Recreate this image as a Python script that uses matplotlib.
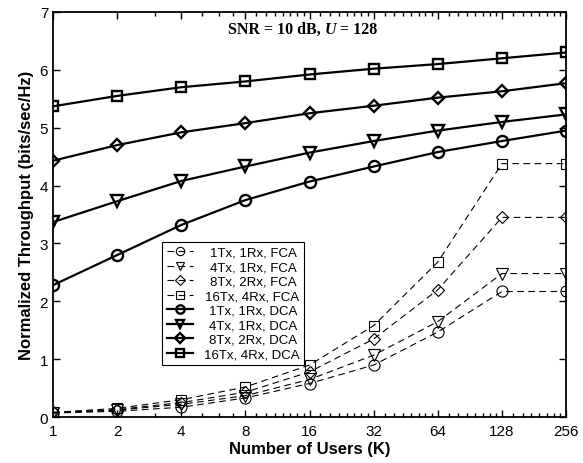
import numpy as np
import matplotlib
matplotlib.use("Agg")
import matplotlib.pyplot as plt
from matplotlib.ticker import FixedLocator, NullFormatter
from matplotlib.offsetbox import TextArea, HPacker, AnchoredOffsetbox

# number of users K
users = [1, 2, 4, 8, 16, 32, 64, 128, 256]

# FCA (dashed, thin)
fca_1x1 = [0.07, 0.10, 0.17, 0.33, 0.58, 0.90, 1.47, 2.17, 2.17]
fca_4x1 = [0.07, 0.12, 0.22, 0.37, 0.65, 1.07, 1.65, 2.48, 2.48]
fca_8x2 = [0.08, 0.13, 0.25, 0.43, 0.78, 1.35, 2.20, 3.45, 3.45]
fca_16x4 = [0.08, 0.15, 0.30, 0.52, 0.90, 1.58, 2.68, 4.38, 4.38]

# DCA (solid, thick)
dca_1x1 = [2.28, 2.80, 3.32, 3.75, 4.07, 4.33, 4.58, 4.77, 4.95]
dca_4x1 = [3.37, 3.73, 4.08, 4.33, 4.57, 4.77, 4.95, 5.10, 5.23]
dca_8x2 = [4.43, 4.70, 4.92, 5.08, 5.25, 5.38, 5.52, 5.63, 5.77]
dca_16x4 = [5.37, 5.55, 5.70, 5.80, 5.92, 6.02, 6.10, 6.20, 6.30]

labels = ["1Tx, 1Rx, FCA", "4Tx, 1Rx, FCA", "8Tx, 2Rx, FCA", "16Tx, 4Rx, FCA",
          "1Tx, 1Rx, DCA", "4Tx, 1Rx, DCA", "8Tx, 2Rx, DCA", "16Tx, 4Rx, DCA"]
markers = ["o", "v", "D", "s"]
msizes = [8, 8.5, 6.5, 7.5]

plt.rcParams["font.family"] = ["Liberation Sans", "DejaVu Sans"]

fig = plt.figure(figsize=(5.83, 4.64), dpi=100)
ax = fig.add_axes([0.091, 0.099, 0.88, 0.873])

series = [fca_1x1, fca_4x1, fca_8x2, fca_16x4, dca_1x1, dca_4x1, dca_8x2, dca_16x4]
for i, ys in enumerate(series):
    m = markers[i % 4]
    ms = msizes[i % 4]
    if i < 4:
        ax.plot(users, ys, ls=(0, (6, 4)), lw=0.8, color="black", marker=m,
                ms=ms, mfc="none", mec="black", mew=0.8, label=labels[i])
    else:
        ax.plot(users, ys, ls="-", lw=1.6, color="black", marker=m,
                ms=ms, mfc="none", mec="black", mew=1.7, label=labels[i])

ax.set_xscale("log", base=2)
ax.set_xlim(1, 256)
ax.set_ylim(0, 7)
ax.set_xticks(users)
ax.set_xticklabels([str(u) for u in users])
minor = [3, 5, 6, 7]
for k in range(3, 8):
    minor += [2 ** k * (1 + j / 8) for j in range(1, 8)]
ax.xaxis.set_minor_locator(FixedLocator(minor))
ax.xaxis.set_minor_formatter(NullFormatter())
ax.set_yticks(range(0, 8))

ax.tick_params(which="both", direction="in", top=True, right=True,
               labelsize=11, width=1)
ax.tick_params(which="major", length=5)
ax.tick_params(which="minor", length=3)
ax.tick_params(axis="x", pad=5)
for s in ax.spines.values():
    s.set_linewidth(1.3)

ax.set_xlabel("Number of Users (K)", fontsize=12, fontweight="bold", labelpad=2)
ax.set_ylabel("Normalized Throughput (bits/sec/Hz)", fontsize=12,
              fontweight="bold", labelpad=4)

# annotation: SNR = 10 dB, U = 128 (Times bold, U italic)
tprops = dict(family="Liberation Serif", weight="bold", size=11.5)
parts = [TextArea("SNR = 10 dB, ", textprops=tprops),
         TextArea("U", textprops=dict(tprops, style="italic")),
         TextArea(" = 128", textprops=tprops)]
box = HPacker(children=parts, align="baseline", pad=0, sep=0)
anch = AnchoredOffsetbox(loc="center", child=box, pad=0, frameon=False,
                         bbox_to_anchor=(0.487, 0.958),
                         bbox_transform=ax.transAxes, borderpad=0)
ax.add_artist(anch)

leg = ax.legend(loc="upper left", bbox_to_anchor=(0.2125, 0.432),
                borderaxespad=0, fontsize=9.5, frameon=True, fancybox=False,
                edgecolor="black", framealpha=1, handlelength=2.0,
                handletextpad=0.8, labelspacing=0.17, borderpad=0.35,
                markerscale=0.75)
leg.get_frame().set_linewidth(0.8)

# right-align the legend texts like the original (offsets are in points)
fig.canvas.draw()
texts = leg.get_texts()
widths = [t.get_window_extent().width for t in texts]
wmax = max(widths)
for t, w in zip(texts, widths):
    t.set_position(((wmax - w) * 72.0 / fig.dpi, 0))

fig.savefig("out.png", dpi=100)
